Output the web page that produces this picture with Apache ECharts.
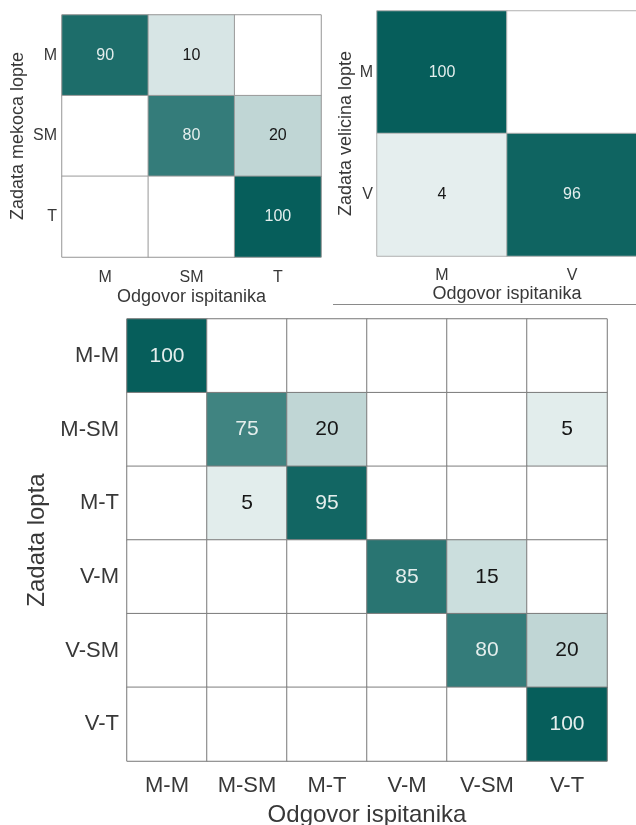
<!DOCTYPE html>
<html>
<head>
<meta charset="utf-8">
<script src="https://cdn.jsdelivr.net/npm/echarts@6/dist/echarts.min.js"></script>
<style>
  html, body { margin: 0; padding: 0; background: #ffffff; }
  #chart { width: 636px; height: 825px; }
</style>
</head>
<body>
<div id="chart"></div>
<script>
// Softness task: given ball (rows) vs. respondent answer (columns), in percent
const softCats = ['M', 'SM', 'T'];
const softRows = [
  [90, 10, 0],
  [0, 80, 20],
  [0, 0, 100]
];

// Size task
const sizeCats = ['M', 'V'];
const sizeRows = [
  [100, 0],
  [4, 96]
];

// Combined size-softness task
const comboCats = ['M-M', 'M-SM', 'M-T', 'V-M', 'V-SM', 'V-T'];
const comboRows = [
  [100, 0, 0, 0, 0, 0],
  [0, 75, 20, 0, 0, 5],
  [0, 5, 95, 0, 0, 0],
  [0, 0, 0, 85, 15, 0],
  [0, 0, 0, 0, 80, 20],
  [0, 0, 0, 0, 0, 100]
];

const FONT = "'Liberation Sans', Arial, Helvetica, sans-serif";
const TEXT = '#383838';

function cells(rows) {
  const out = [];
  rows.forEach((row, r) => {
    row.forEach((v, c) => {
      out.push({
        value: [c, r, v],
        label: { color: v > 50 ? '#e4eeed' : '#161616' }
      });
    });
  });
  return out;
}

function xAxisFor(idx, cats, labelSize, nameSize, margin, gap) {
  return {
    type: 'category', gridIndex: idx, data: cats, position: 'bottom',
    axisLine: { show: false }, axisTick: { show: false }, splitLine: { show: false },
    axisLabel: { fontFamily: FONT, fontSize: labelSize, color: TEXT, margin: margin },
    name: 'Odgovor ispitanika', nameLocation: 'middle', nameGap: gap,
    nameTextStyle: { fontFamily: FONT, fontSize: nameSize, color: TEXT }
  };
}

function yAxisFor(idx, cats, name, labelSize, nameSize, margin, gap) {
  return {
    type: 'category', gridIndex: idx, data: cats, inverse: true,
    axisLine: { show: false }, axisTick: { show: false }, splitLine: { show: false },
    axisLabel: { fontFamily: FONT, fontSize: labelSize, color: TEXT, margin: margin },
    name: name, nameLocation: 'middle', nameGap: gap, nameRotate: 90,
    nameTextStyle: { fontFamily: FONT, fontSize: nameSize, color: TEXT }
  };
}

function heat(idx, rows, fontSize, border) {
  return {
    type: 'heatmap', xAxisIndex: idx, yAxisIndex: idx,
    data: cells(rows),
    itemStyle: { borderColor: border, borderWidth: 1 },
    label: {
      show: true, fontFamily: FONT, fontSize: fontSize,
      formatter: p => (p.value[2] > 0 ? String(p.value[2]) : '')
    },
    emphasis: { disabled: true }
  };
}

const chart = echarts.init(document.getElementById('chart'), null, { renderer: 'canvas' });

chart.setOption({
  backgroundColor: '#ffffff',
  animation: false,
  grid: [
    { left: 62, top: 15, width: 259, height: 242, show: true, borderColor: '#c4c4c4', borderWidth: 1, outerBoundsMode: 'none', containLabel: false },
    { left: 377, top: 11, width: 260, height: 245, show: true, borderColor: '#d0d0d0', borderWidth: 1, outerBoundsMode: 'none', containLabel: false },
    { left: 127, top: 319, width: 480, height: 442, show: true, borderColor: '#b8b8b8', borderWidth: 1, outerBoundsMode: 'none', containLabel: false }
  ],
  xAxis: [
    xAxisFor(0, softCats, 16, 18, 13, 31),
    xAxisFor(1, sizeCats, 16, 18, 12, 28),
    xAxisFor(2, comboCats, 22, 24, 14, 42)
  ],
  yAxis: [
    yAxisFor(0, softCats, 'Zadata mekoca lopte', 16, 18, 5, 35),
    yAxisFor(1, sizeCats, 'Zadata velicina lopte', 16, 18, 4, 22),
    yAxisFor(2, comboCats, 'Zadata lopta', 22, 24, 8, 67)
  ],
  visualMap: {
    show: false, type: 'continuous', seriesIndex: [0, 1, 2], dimension: 2,
    min: 0, max: 100, range: [0.5, 100],
    inRange: { color: ['#eef4f4', '#065e5b'] },
    outOfRange: { color: '#ffffff' }
  },
  series: [
    heat(0, softRows, 16, '#9a9a9a'),
    heat(1, sizeRows, 16, '#b4b4b4'),
    heat(2, comboRows, 21, '#7c7c7c')
  ],
  graphic: [
    {
      type: 'line', silent: true,
      shape: { x1: 333, y1: 304.5, x2: 636, y2: 304.5 },
      style: { stroke: '#8a8a8a', lineWidth: 1 }
    }
  ]
});
</script>
</body>
</html>
